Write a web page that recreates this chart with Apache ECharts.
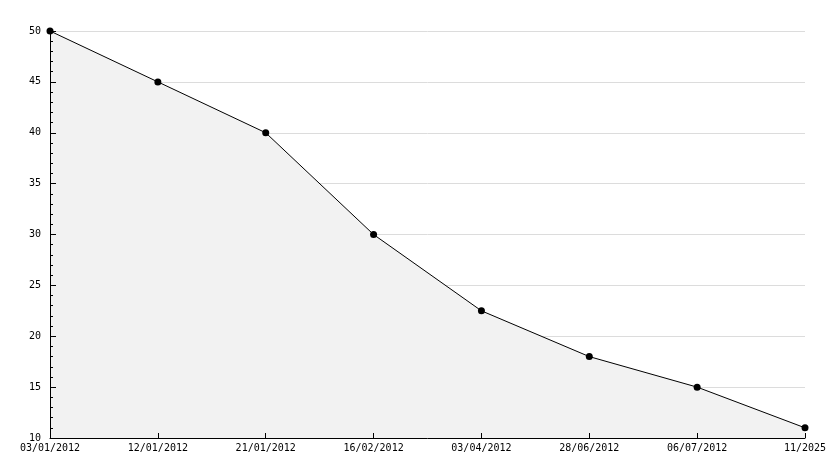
<!DOCTYPE html>
<html><head><meta charset="utf-8">
<script src="https://cdn.jsdelivr.net/npm/echarts@6/dist/echarts.min.js"></script>
<style>html,body{margin:0;padding:0;background:#fff}#c{width:834px;height:468px}</style>
</head><body><div id="c"></div>
<script>
const categories = ['03/01/2012','12/01/2012','21/01/2012','16/02/2012','03/04/2012','28/06/2012','06/07/2012','11/2025'];
const values = [50, 45, 40, 30, 22.5, 18, 15, 11];
const yMin = 10, yMax = 50, yStep = 5;
const font = '"DejaVu Sans Mono", monospace';
const chart = echarts.init(document.getElementById('c'), null, {renderer:'canvas'});
chart.setOption({
  animation: false,
  backgroundColor: '#fff',
  grid: {left: 50, right: 29, top: 31, bottom: 30, containLabel: false},
  xAxis: {
    type: 'category', data: categories, boundaryGap: false, z: 10,
    axisLine: {lineStyle: {color: '#000', width: 1}},
    axisTick: {inside: true, length: 5, lineStyle: {color: '#000'}},
    axisLabel: {color: '#000', fontFamily: font, fontSize: 10, margin: 5, interval: 0},
    splitLine: {show: false}
  },
  yAxis: [{
    type: 'value', min: yMin, max: yMax, interval: yStep,
    axisLine: {show: false}, axisTick: {show: false}, axisLabel: {show: false},
    splitLine: {show: true, lineStyle: {color: '#dcdcdc', width: 1}}
  }, {
    type: 'value', min: yMin, max: yMax, interval: yStep, position: 'left', z: 10,
    axisLine: {show: true, lineStyle: {color: '#000', width: 1}},
    axisTick: {show: true, inside: true, length: 6, lineStyle: {color: '#000'}},
    minorTick: {show: true, splitNumber: 5, length: 3, lineStyle: {color: '#000'}},
    axisLabel: {color: '#000', fontFamily: font, fontSize: 10, margin: 9},
    splitLine: {show: false}
  }],
  series: [{
    type: 'line', data: values, yAxisIndex: 0,
    symbol: 'circle', symbolSize: 7,
    itemStyle: {color: '#000'},
    lineStyle: {color: '#000', width: 1},
    areaStyle: {color: '#f2f2f2', opacity: 1, origin: 'start'}
  }]
});
</script></body></html>
